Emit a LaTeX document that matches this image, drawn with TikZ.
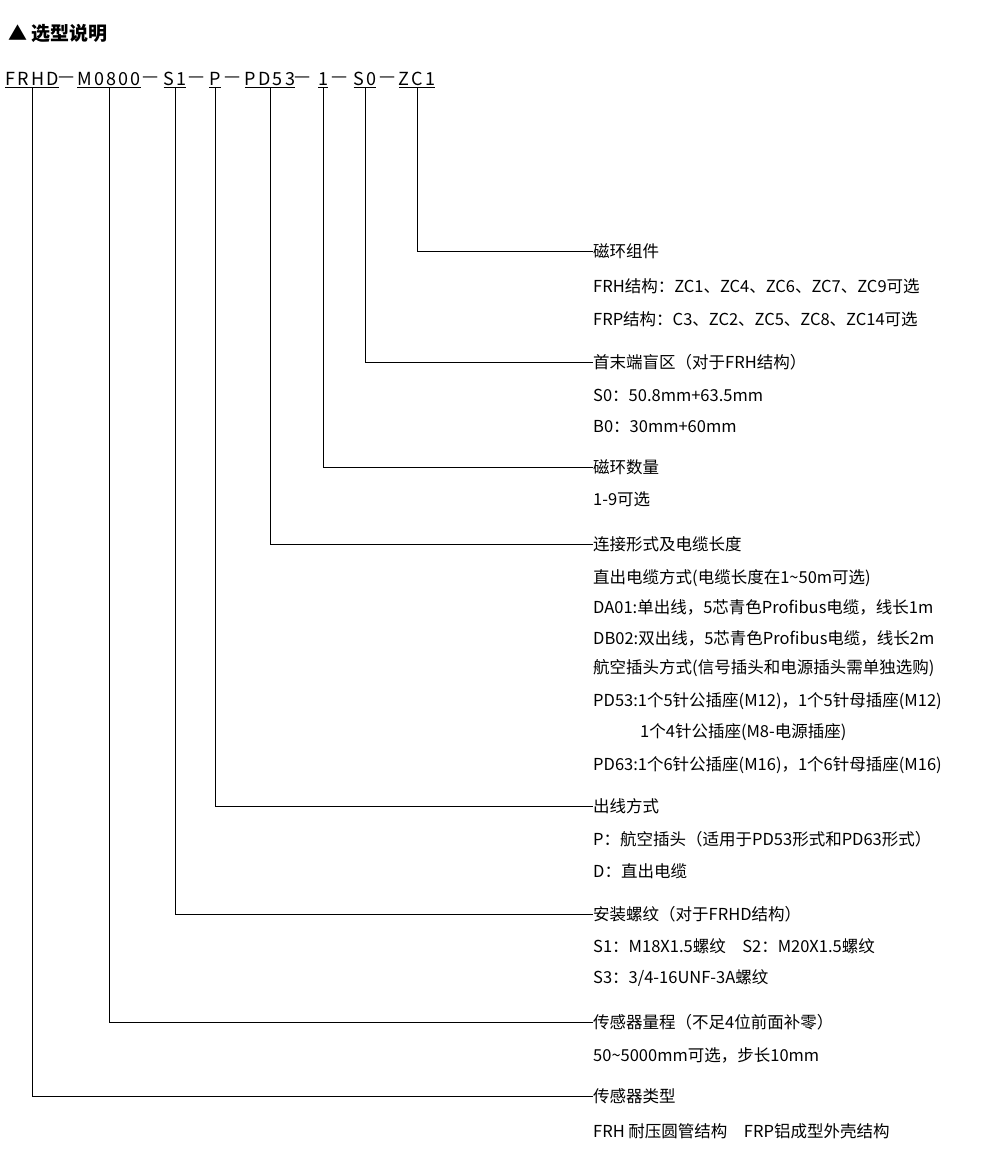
\documentclass[tikz,border=0pt]{standalone}
\usepackage{fontspec}
\setmainfont{Noto Sans CJK SC}
\usetikzlibrary{positioning}
\begin{document}
\begin{tikzpicture}[x=1pt,y=-1pt,
  every node/.style={inner sep=0pt, font=\fontsize{16.5}{20}\selectfont},
  code/.style={font=\fontsize{18}{22}\selectfont\addfontfeature{LetterSpace=12}},
  desc/.style={anchor=west},
  lead/.style={line width=0.8pt}]
\useasboundingbox (0,0) rectangle (1000,1168);
\node[anchor=west, font=\fontsize{19}{22}\selectfont\bfseries] (title) at (8,33) {▲ 选型说明};
% model code
\node[code] (cFRHD) at (32,80) {\underline{FRHD}};
\node[code] (k1) at (67,80) {—};
\node[code] (cM) at (109,80) {\underline{M0800}};
\node[code] (k2) at (151,80) {—};
\node[code] (cS1) at (175,80) {\underline{S1}};
\node[code] (k3) at (197,80) {—};
\node[code] (cP) at (215,80) {\underline{P}};
\node[code] (k4) at (233,80) {—};
\node[code] (cPD) at (270,80) {\underline{PD53}};
\node[code] (k5) at (303,80) {—};
\node[code] (cN) at (323,80) {\underline{1}};
\node[code] (k6) at (340,80) {—};
\node[code] (cS0) at (365,80) {\underline{S0}};
\node[code] (k7) at (388,80) {—};
\node[code] (cZC) at (417,80) {\underline{ZC1}};
% descriptions
\node[desc] (dZC) at (593,251) {磁环组件};
\node[desc] at (593,286) {FRH结构：ZC1、ZC4、ZC6、ZC7、ZC9可选};
\node[desc] at (593,319) {FRP结构：C3、ZC2、ZC5、ZC8、ZC14可选};
\node[desc] (dS0) at (593,362) {首末端盲区（对于FRH结构）};
\node[desc] at (593,395) {S0：50.8mm+63.5mm};
\node[desc] at (593,427) {B0：30mm+60mm};
\node[desc] (dN) at (593,467) {磁环数量};
\node[desc] at (593,499) {1-9可选};
\node[desc] (dPD) at (593,544) {连接形式及电缆长度};
\node[desc] at (593,578) {直出电缆方式(电缆长度在1\textasciitilde50m可选)};
\node[desc] at (593,607) {DA01:单出线，5芯青色Profibus电缆，线长1m};
\node[desc] at (593,638) {DB02:双出线，5芯青色Profibus电缆，线长2m};
\node[desc] at (593,668) {航空插头方式(信号插头和电源插头需单独选购)};
\node[desc] at (593,701) {PD53:1个5针公插座(M12)，1个5针母插座(M12)};
\node[desc] at (640,732) {1个4针公插座(M8-电源插座)};
\node[desc] at (593,765) {PD63:1个6针公插座(M16)，1个6针母插座(M16)};
\node[desc] (dP) at (593,806) {出线方式};
\node[desc] at (593,839) {P：航空插头（适用于PD53形式和PD63形式）};
\node[desc] at (593,871) {D：直出电缆};
\node[desc] (dS1) at (593,914) {安装螺纹（对于FRHD结构）};
\node[desc] at (593,946) {S1：M18X1.5螺纹\quad S2：M20X1.5螺纹};
\node[desc] at (593,978) {S3：3/4-16UNF-3A螺纹};
\node[desc] (dM) at (593,1022) {传感器量程（不足4位前面补零）};
\node[desc] at (593,1055) {50\textasciitilde5000mm可选，步长10mm};
\node[desc] (dFRHD) at (593,1096) {传感器类型};
\node[desc] at (593,1131) {FRH 耐压圆管结构\quad FRP铝成型外壳结构};
% leaders
\draw[lead] (cZC.south) |- (dZC.west);
\draw[lead] (cS0.south) |- (dS0.west);
\draw[lead] (cN.south) |- (dN.west);
\draw[lead] (cPD.south) |- (dPD.west);
\draw[lead] (cP.south) |- (dP.west);
\draw[lead] (cS1.south) |- (dS1.west);
\draw[lead] (cM.south) |- (dM.west);
\draw[lead] (cFRHD.south) |- (dFRHD.west);
\end{tikzpicture}
\end{document}
